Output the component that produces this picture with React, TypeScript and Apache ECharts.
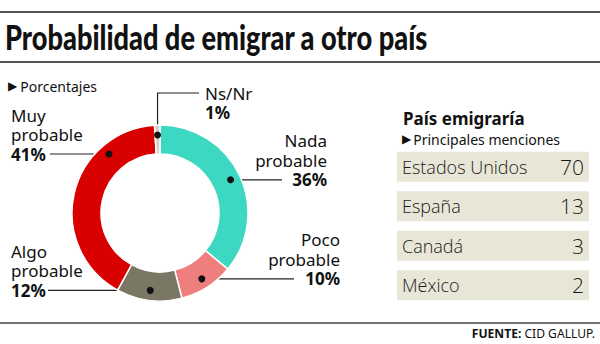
import React, { useEffect, useRef } from "react";
import * as echarts from "echarts";

const categories = ["Nada probable", "Poco probable", "Algo probable", "Muy probable", "Ns/Nr"];
const percentages = [36, 10, 12, 41, 1];
const sliceColors = ["#3dd8c1", "#ef7f7e", "#7a7865", "#d90000", "#d3d0cc"];

const countries = ["Estados Unidos", "España", "Canadá", "México"];
const mentions = [70, 13, 3, 2];

const TITLE = "Probabilidad de emigrar a otro país";
const SUBTITLE = "Porcentajes";
const TABLE_TITLE = "País emigraría";
const TABLE_SUB = "Principales menciones";

// layout (positions only)
const CX = 160;
const CY = 213;
const DOT_R = 78;
const LH = 19.5;
const labelCfg = [
  { x: 327, align: "right", lineEnd: 282 },
  { x: 340, align: "right", lineEnd: 294 },
  { x: 11, align: "left", lineEnd: 48 },
  { x: 11, align: "left", lineEnd: 50, lineY: 154 },
  { x: 205, align: "left", lineEnd: 199, lineY: 93, top: true },
];

function computeDots() {
  const total = percentages.reduce((a, b) => a + b, 0);
  let cum = 0;
  return percentages.map((v, i) => {
    const mid = ((90 - (360 * (cum + v / 2)) / total) * Math.PI) / 180;
    cum += v;
    const cfg: any = labelCfg[i];
    let x = CX + DOT_R * Math.cos(mid);
    let y = CY - DOT_R * Math.sin(mid);
    if (cfg.lineY !== undefined && !cfg.top) {
      y = cfg.lineY;
      const dx = Math.sqrt(DOT_R * DOT_R - (y - CY) * (y - CY));
      x = CX + (Math.cos(mid) < 0 ? -dx : dx);
    }
    return { x, y };
  });
}

export default function App() {
  const ref = useRef<HTMLDivElement>(null);
  useEffect(() => {
    if (!ref.current) return;
    const chart = echarts.init(ref.current, null, { renderer: "svg" });
    const dots = computeDots();
    const font = "'Noto Sans', sans-serif";

    const pieData = categories.map((name, i) => ({
      name,
      value: percentages[i],
      itemStyle: { color: sliceColors[i] },
    }));

    const graphic: any[] = [
      { type: "line", shape: { x1: 0, y1: 12, x2: 600, y2: 12 }, style: { stroke: "#555", lineWidth: 2 } },
      { type: "line", shape: { x1: 0, y1: 62, x2: 600, y2: 62 }, style: { stroke: "#555", lineWidth: 2 } },
      { type: "line", shape: { x1: 0, y1: 323, x2: 600, y2: 323 }, style: { stroke: "#444", lineWidth: 1.5 } },
      {
        type: "text",
        x: 5,
        y: 37,
        scaleX: 0.8,
        style: {
          text: TITLE,
          fill: "#111",
          font: "900 34px Lato, sans-serif",
          textVerticalAlign: "middle",
          verticalAlign: "middle",
        },
      },
      {
        type: "text",
        x: 8,
        y: 86,
        style: {
          text: "{t|▶}{s|" + SUBTITLE + "}",
          verticalAlign: "middle",
          textVerticalAlign: "middle",
          rich: {
            t: { fontSize: 12, fontFamily: "'DejaVu Sans', sans-serif", fill: "#111", padding: [0, 3, 0, 0] },
            s: { fontSize: 14, fontFamily: font, fill: "#111" },
          },
        },
      },
      {
        type: "text",
        x: 403,
        y: 118,
        style: {
          text: TABLE_TITLE,
          fill: "#111",
          font: "bold 17px 'Noto Sans', sans-serif",
          verticalAlign: "middle",
          textVerticalAlign: "middle",
        },
      },
      {
        type: "text",
        x: 402,
        y: 139,
        style: {
          text: "{t|▶}{s|" + TABLE_SUB + "}",
          verticalAlign: "middle",
          textVerticalAlign: "middle",
          rich: {
            t: { fontSize: 12, fontFamily: "'DejaVu Sans', sans-serif", fill: "#111", padding: [0, 2, 0, 0] },
            s: { fontSize: 14, fontFamily: font, fill: "#111" },
          },
        },
      },
      {
        type: "text",
        x: 595,
        y: 333,
        scaleX: 0.93,
        style: {
          text: "{b|FUENTE:} {r|CID GALLUP.}",
          align: "right",
          textAlign: "right",
          verticalAlign: "middle",
          textVerticalAlign: "middle",
          rich: {
            b: { fontSize: 13, fontWeight: "bold", fontFamily: font, fill: "#111" },
            r: { fontSize: 13, fontFamily: font, fill: "#111" },
          },
        },
      },
      ...dots.map((d) => ({
        type: "circle",
        z: 100,
        shape: { cx: d.x, cy: d.y, r: 3.5 },
        style: { fill: "#111" },
      })),
    ];

    chart.setOption({
      animation: false,
      graphic,
      grid: { left: 397, top: 147, width: 192, height: 158 },
      xAxis: { type: "value", min: 0, max: 70, show: false },
      yAxis: [
        {
          type: "category",
          data: countries,
          inverse: true,
          axisLine: { show: false },
          axisTick: { show: false },
          axisLabel: {
            inside: true,
            margin: 5,
            align: "left",
            fontSize: 18,
            fontWeight: 300,
            fontFamily: "'Open Sans', sans-serif",
            color: "#1a1a1a",
            verticalAlign: "middle",
          },
          z: 10,
        },
        {
          type: "category",
          data: countries,
          inverse: true,
          position: "right",
          axisLine: { show: false },
          axisTick: { show: false },
          axisLabel: {
            inside: true,
            margin: 5,
            align: "right",
            fontSize: 21,
            fontWeight: 300,
            fontFamily: "'Open Sans', sans-serif",
            color: "#1a1a1a",
            formatter: (_v: string, i: number) => String(mentions[i]),
          },
          z: 10,
        },
      ],
      series: [
        {
          type: "bar",
          data: mentions,
          barWidth: 30,
          silent: true,
          itemStyle: { color: "rgba(0,0,0,0)" },
          showBackground: true,
          backgroundStyle: { color: "#e8e6d7" },
        },
        {
          type: "pie",
          center: [CX, CY],
          radius: [59, 88],
          startAngle: 90,
          clockwise: true,
          silent: true,
          avoidLabelOverlap: false,
          itemStyle: { borderColor: "#fff", borderWidth: 1.5 },
          data: pieData,
          label: {
            show: true,
            position: "outside",
            overflow: "none",
            fontFamily: font,
            color: "#111",
            lineHeight: LH,
            formatter: (p: any) => {
              const parts = String(p.name).split(" ");
              return parts.map((s: string) => `{n|${s}}`).join("\n") + `\n{v|${p.value}%}`;
            },
            rich: {
              n: { fontSize: 17, fontFamily: font, color: "#111", lineHeight: LH },
              v: { fontSize: 17, fontWeight: "bold", fontFamily: font, color: "#111", lineHeight: LH },
            },
          },
          labelLine: { show: true, lineStyle: { color: "#222", width: 1.2 } },
          labelLayout: (params: any) => {
            const i = params.dataIndex;
            const cfg: any = labelCfg[i];
            const d = dots[i];
            if (cfg.top) {
              return {
                x: cfg.x,
                y: cfg.lineY - LH / 2,
                align: cfg.align,
                verticalAlign: "top",
                labelLinePoints: [
                  [d.x, d.y],
                  [d.x, cfg.lineY],
                  [cfg.lineEnd, cfg.lineY],
                ],
              };
            }
            return {
              x: cfg.x,
              y: d.y + LH / 2,
              align: cfg.align,
              verticalAlign: "bottom",
              labelLinePoints: [
                [d.x, d.y],
                [(d.x + cfg.lineEnd) / 2, d.y],
                [cfg.lineEnd, d.y],
              ],
            };
          },
        },
      ],
    });
    return () => chart.dispose();
  }, []);
  return (
    <div
      ref={ref}
      style={{ position: "fixed", left: 0, top: 0, width: 600, height: 344, background: "#fff" }}
    />
  );
}
